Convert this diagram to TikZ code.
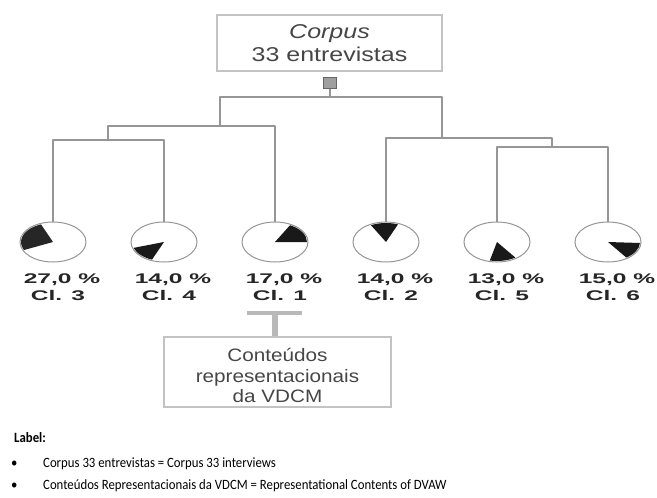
\documentclass[tikz,border=0pt]{standalone}
\usepackage{fontspec}
\setmainfont{Liberation Sans}
\newfontfamily\corpusfont[FakeStretch=1.25]{Liberation Sans}
\newfontfamily\notefont[FakeStretch=1.15]{Liberation Sans}
\newfontfamily\pctfont[FakeStretch=1.75]{Liberation Sans}
\newfontfamily\legendfont[FakeStretch=0.9]{Carlito}
\usepackage{xcolor}
\usetikzlibrary{shapes.geometric}
\definecolor{linegray}{RGB}{150,150,150}
\definecolor{boxgray}{RGB}{195,195,195}
\definecolor{textgray}{RGB}{70,70,70}
\definecolor{teegray}{RGB}{185,185,185}

\begin{document}
\begin{tikzpicture}[x=1pt,y=1pt]
  \tikzstyle{textbox}=[draw=boxgray, line width=1.2pt, text=textgray, align=center, inner sep=0pt]
  \tikzstyle{pie}=[ellipse, draw=linegray, line width=1pt, minimum width=66pt, minimum height=40pt, inner sep=0pt]
  \tikzstyle{branch}=[draw=linegray, line width=2pt, line join=round]
  \tikzstyle{wedge}=[fill=black!90]
  \tikzstyle{pct}=[anchor=base, inner sep=0pt, text=black!85, font=\pctfont\bfseries\fontsize{14}{16}\selectfont]
  \tikzstyle{legend}=[anchor=base west, inner sep=0pt, font=\legendfont\fontsize{14.2}{17}\selectfont]
  \useasboundingbox (0,0) rectangle (657,-498);
  % top of the tree
  \node[textbox, minimum width=225pt, minimum height=56pt, font=\corpusfont\fontsize{20}{23}\selectfont] (corpus) at (329.5,-43) {\textit{Corpus}\\33 entrevistas};
  \node[draw=gray!80!black, fill=gray!75, minimum width=13pt, minimum height=11pt, inner sep=0pt] (sq) at (330,-83) {};
  % classes
  \node[pie] (P_3) at (53,-242)  {};
  \node[pie] (P_4) at (164,-242) {};
  \node[pie] (P_1) at (275,-242) {};
  \node[pie] (P_2) at (386,-242) {};
  \node[pie] (P_5) at (497,-242) {};
  \node[pie] (P_6) at (608,-242) {};
  \fill[wedge, black!85] (P_3.center) -- ++(112:32 and 19) arc[start angle=112, end angle=205, x radius=32, y radius=19] -- cycle;
  \fill[wedge] (P_4.center) -- ++(198:32 and 19) arc[start angle=198, end angle=248, x radius=32, y radius=19] -- cycle;
  \fill[wedge] (P_1.center) -- ++(0:32 and 19) arc[start angle=0, end angle=62, x radius=32, y radius=19] -- cycle;
  \fill[wedge] (P_2.center) -- ++(68:32 and 19) arc[start angle=68, end angle=118, x radius=32, y radius=19] -- cycle;
  \fill[wedge] (P_5.center) -- ++(257:32 and 19) arc[start angle=257, end angle=305, x radius=32, y radius=19] -- cycle;
  \fill[wedge] (P_6.center) -- ++(-55:32 and 19) arc[start angle=-55, end angle=-3, x radius=32, y radius=19] -- cycle;
  \node[pct] (L_3) at (62,-283)  {27,0 \%};
  \node[pct] (L_4) at (173,-283) {14,0 \%};
  \node[pct] (L_1) at (284,-283) {17,0 \%};
  \node[pct] (L_2) at (395,-283) {14,0 \%};
  \node[pct] (L_5) at (506,-283) {13,0 \%};
  \node[pct] (L_6) at (617,-283) {15,0 \%};
  \node[pct] (C_3) at (58,-300)  {Cl. 3};
  \node[pct] (C_4) at (169,-300) {Cl. 4};
  \node[pct] (C_1) at (280,-300) {Cl. 1};
  \node[pct] (C_2) at (391,-300) {Cl. 2};
  \node[pct] (C_5) at (502,-300) {Cl. 5};
  \node[pct] (C_6) at (613,-300) {Cl. 6};
  % branches
  \coordinate (J_0)   at (330,-97);
  \coordinate (J_34)  at (108,-140);
  \coordinate (J_341) at (220,-126);
  \coordinate (J_256) at (442,-138);
  \coordinate (J_56)  at (552,-147);
  \draw[branch] (sq.south) -- (J_0);
  \draw[branch] (P_3.north) |- (J_34) -| (P_4.north);
  \draw[branch] (J_34) |- (J_341) -| (P_1.north);
  \draw[branch] (J_341) |- (J_0) -| (J_256);
  \draw[branch] (P_2.north) |- (J_256) -| (J_56);
  \draw[branch] (P_5.north) |- (J_56) -| (P_6.north);
  % representational contents
  \node[textbox, minimum width=227pt, minimum height=70pt, font=\notefont\fontsize{18}{20.5}\selectfont] (vdcm) at (277.5,-372) {\rule{0pt}{21pt}Conteúdos\\representacionais\\da VDCM};
  \coordinate (T_l) at (247,-313);
  \coordinate (T_r) at (302,-313);
  \coordinate (T_m) at (275,-313);
  \draw[teegray, line width=4.5pt] (T_l) -- (T_r);
  \draw[teegray, line width=5.5pt] (T_m) -- (T_m |- vdcm.north);
  % legend
  \node[legend, font=\legendfont\bfseries\fontsize{14.2}{17}\selectfont] (lab) at (14,-442) {Label:};
  \node[legend] (b_1) at (11,-467) {•};
  \node[legend] (b_2) at (11,-489) {•};
  \node[legend] (t_1) at (43,-467) {Corpus 33 entrevistas = Corpus 33 interviews};
  \node[legend] (t_2) at (43,-489) {Conteúdos Representacionais da VDCM = Representational Contents of DVAW};
\end{tikzpicture}
\end{document}
